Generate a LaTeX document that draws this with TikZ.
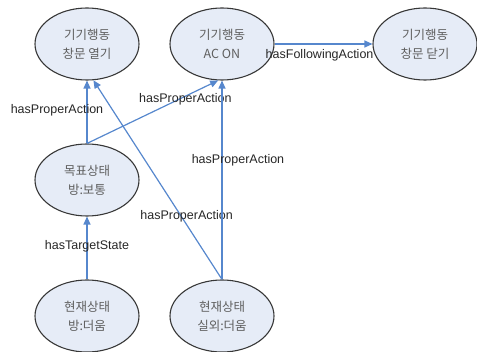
\documentclass[tikz,border=0pt]{standalone}
\usepackage{fontspec}
\setmainfont{Liberation Sans}
\newfontfamily\krfont{Noto Sans CJK KR}
\usetikzlibrary{shapes.geometric,arrows.meta}

\definecolor{nodefill}{RGB}{230,236,247}
\definecolor{nodeline}{RGB}{55,55,55}
\definecolor{nodetext}{RGB}{95,95,95}
\definecolor{edgeblue}{RGB}{86,135,205}

\tikzstyle{concept} = [ellipse,draw=nodeline,line width=1.1pt,fill=nodefill,
  minimum width=104pt,minimum height=72pt,inner sep=0pt,align=center,
  text=nodetext,font=\krfont\fontsize{12.5}{19}\selectfont]
\tikzstyle{rel} = [draw=edgeblue,line width=1.2pt,-{Triangle[length=8pt,width=7pt]}]
\tikzstyle{lbl} = [font=\fontsize{12.5}{14}\selectfont,text=black!85,inner sep=0pt]

\begin{document}
\begin{tikzpicture}[x=1pt,y=-1pt]
	\useasboundingbox (0,0) rectangle (477,352);
	\node[concept] (open) at (87,44) {기기행동\\창문 열기};
	\node[concept] (acon) at (222,44) {기기행동\\AC ON};
	\node[concept] (close) at (425,44) {기기행동\\창문 닫기};
	\node[concept] (goal) at (87,180) {목표상태\\방:보통};
	\node[concept] (room) at (87,316) {현재상태\\방:더움};
	\node[concept] (outside) at (222,316) {현재상태\\실외:더움};
	
	\draw[rel] (goal.north) -- node[lbl,pos=.52,xshift=-30pt] {hasProperAction} (open.south);
	\draw[rel] (goal.north) -- node[lbl,pos=.75,yshift=-3pt] {hasProperAction} (acon.-96);
	\draw[rel] (outside.north) -- node[lbl,pos=.33,xshift=7pt,yshift=-3pt] {hasProperAction} (open.-80);
	\draw[rel] (outside.north) -- node[lbl,pos=.6,xshift=16pt] {hasProperAction} (acon.south);
	\draw[rel] (acon.east) -- node[lbl,pos=.46,yshift=-11pt] {hasFollowingAction} (close.west);
	\draw[rel] (room.north) -- node[lbl,pos=.53] {hasTargetState} (goal.south);
\end{tikzpicture}
\end{document}
